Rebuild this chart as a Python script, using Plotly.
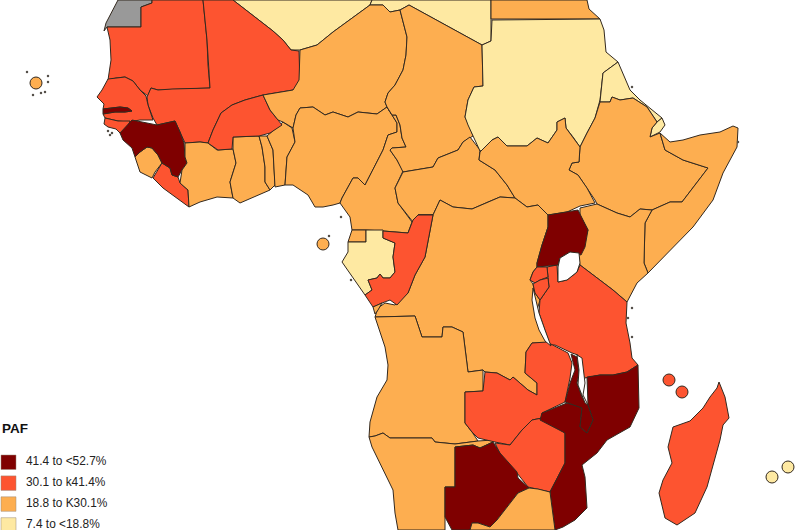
import plotly.graph_objects as go

# --- Outlines (x, y along the map) ---
W_SAHARA = [(118,0),(113,10),(106,23),(104,31),(107,27),(141,27),(141,7),(152,3),(152,0)]
MAURITANIA = [(107,27),(141,27),(141,7),(152,3),(152,0),(203,0),(207,40),(208,65),(210,88),(172,89),(158,90),(151,88),(148,96),(140,90),(133,81),(125,77),(116,78),(108,80),(111,60),(110,40)]
SENEGAL = [(97,97),(102,90),(108,79),(116,78),(125,77),(133,81),(140,90),(146,96),(148,105),(153,120),(140,120),(128,122),(118,121),(105,118),(103,114),(115,112),(125,112),(132,111),(128,108),(120,107),(110,108),(103,109),(104,104)]
GAMBIA = [(103,109),(110,108),(120,107),(128,108),(132,111),(125,112),(115,112),(103,114)]
GUINEA_BISSAU = [(105,118),(118,121),(130,121),(128,127),(122,135),(116,129),(108,127),(104,124)]
GUINEA = [(120,133),(125,128),(132,120),(147,123),(157,125),(175,121),(180,132),(184,143),(185,157),(187,163),(182,170),(178,177),(172,175),(170,168),(162,163),(158,155),(152,148),(147,147),(140,152),(135,157),(132,148),(123,140)]
SIERRA_LEONE = [(135,157),(140,152),(147,147),(152,148),(158,155),(162,163),(155,172),(152,178),(140,172),(138,165),(136,160)]
LIBERIA = [(162,163),(170,168),(172,175),(178,177),(180,183),(188,190),(189,207),(177,198),(163,188),(153,178)]
IVORY_COAST = [(185,143),(200,142),(208,143),(217,150),(233,149),(236,163),(230,182),(233,198),(217,197),(200,202),(189,207),(188,190),(180,183),(182,170),(187,163),(185,157)]
GHANA = [(233,137),(259,136),(262,147),(265,167),(265,182),(270,190),(240,203),(233,198),(230,182),(236,163),(233,149)]
TOGO = [(259,136),(267,136),(273,150),(275,185),(270,190),(265,182),(265,167),(262,147)]
BENIN = [(267,136),(283,122),(292,128),(295,142),(287,157),(285,185),(275,187),(273,150)]
BURKINA = [(208,143),(213,130),(221,113),(232,105),(245,100),(263,95),(270,110),(278,120),(282,125),(270,133),(259,136),(233,137),(232,149),(218,150)]
MALI = [(203,0),(233,0),(273,31),(283,40),(291,50),(299,51),(300,85),(293,90),(263,95),(245,100),(232,105),(221,113),(213,130),(208,143),(200,142),(185,143),(180,132),(175,121),(157,125),(153,118),(148,105),(147,97),(151,88),(158,90),(172,89),(210,88),(207,40)]
ALGERIA = [(233,0),(273,31),(283,40),(291,50),(300,50),(317,45),(333,32),(370,5),(372,0)]
LIBYA = [(372,0),(370,5),(383,5),(390,12),(400,10),(409,5),(482,45),(491,41),(491,0)]
EGYPT = [(491,0),(587,0),(589,9),(600,19),(491,19)]
NIGER = [(300,50),(317,45),(333,32),(370,5),(383,5),(390,12),(400,10),(404,25),(407,37),(406,55),(403,70),(395,85),(388,93),(385,102),(387,107),(377,114),(358,112),(348,117),(333,112),(325,115),(313,107),(300,108),(296,115),(293,128),(283,122),(278,120),(270,110),(263,95),(293,90),(299,80)]
NIGERIA = [(293,128),(296,115),(300,108),(313,107),(325,115),(333,112),(348,117),(358,112),(377,114),(387,107),(392,115),(397,123),(397,132),(388,135),(383,150),(373,170),(365,185),(358,178),(353,178),(342,198),(340,203),(333,205),(323,207),(315,207),(308,195),(293,185),(285,185),(287,157),(295,142)]
CAMEROON = [(387,107),(392,115),(396,115),(400,125),(402,138),(406,147),(392,148),(390,150),(397,160),(403,171),(395,188),(398,203),(412,222),(408,233),(383,231),(366,230),(352,230),(350,217),(340,203),(342,198),(353,178),(358,178),(365,185),(373,170),(383,150),(388,135),(397,132),(397,123)]
CHAD = [(400,10),(409,5),(482,45),(483,86),(474,87),(468,100),(465,117),(470,127),(473,136),(463,142),(458,150),(438,158),(433,167),(415,170),(403,172),(397,160),(390,150),(392,148),(406,147),(402,138),(400,125),(396,115),(392,115),(387,107),(385,102),(388,93),(395,85),(403,70),(406,55),(407,37),(404,25)]
CAR = [(403,172),(415,170),(433,167),(438,158),(458,150),(463,142),(470,137),(480,150),(479,160),(495,170),(507,185),(515,198),(500,197),(488,202),(472,209),(453,207),(440,200),(433,215),(418,215),(413,222),(398,203),(395,188)]
SUDAN = [(482,45),(491,41),(492,20),(600,19),(604,30),(606,52),(618,62),(603,73),(600,100),(595,118),(587,133),(580,147),(573,137),(566,128),(565,118),(557,122),(557,130),(548,143),(537,138),(527,146),(507,146),(498,137),(492,140),(483,150),(480,151),(473,136),(468,125),(465,117),(468,100),(474,87),(483,86)]
ERITREA = [(618,62),(630,90),(640,100),(662,118),(657,122),(647,107),(633,98),(620,100),(612,97),(610,102),(600,102),(603,73)]
DJIBOUTI = [(662,118),(665,125),(660,132),(650,137),(652,128),(657,122)]
ETHIOPIA = [(600,102),(610,102),(612,97),(620,100),(633,98),(647,107),(657,122),(652,128),(650,137),(660,133),(665,150),(683,160),(708,168),(682,202),(670,202),(652,210),(640,209),(630,217),(617,213),(597,204),(595,200),(587,188),(578,175),(569,170),(572,163),(579,162),(580,147),(587,133),(595,118)]
SOMALIA = [(660,133),(670,142),(683,140),(700,135),(720,132),(733,126),(738,128),(737,147),(723,173),(713,200),(693,227),(663,258),(648,273),(644,263),(645,223),(652,210),(670,202),(682,202),(708,168),(683,160),(665,150)]
KENYA = [(580,208),(597,204),(617,213),(630,217),(640,209),(652,210),(645,223),(644,263),(648,273),(637,283),(627,302),(613,290),(580,265),(578,255),(582,248),(588,230),(580,215)]
SOUTH_SUDAN = [(480,152),(492,140),(498,137),(507,146),(527,146),(537,138),(548,143),(557,130),(557,122),(565,118),(566,128),(573,137),(580,147),(579,162),(572,163),(569,170),(578,175),(587,188),(595,203),(580,206),(567,212),(548,215),(538,205),(527,207),(515,198),(507,185),(495,170),(479,160)]
UGANDA = [(548,215),(567,212),(578,210),(583,220),(588,230),(585,247),(581,255),(570,252),(560,258),(558,265),(537,267),(537,263),(542,245),(548,227)]
RWANDA = [(537,267),(547,267),(548,277),(540,280),(535,283),(530,280),(533,272)]
BURUNDI = [(533,284),(540,280),(548,278),(549,287),(540,300),(535,293)]
TANZANIA = [(547,267),(557,265),(558,282),(567,280),(577,272),(580,265),(613,290),(627,302),(626,323),(630,343),(632,358),(638,365),(627,372),(613,375),(600,375),(585,378),(580,370),(578,355),(572,353),(555,345),(550,345),(545,330),(539,313),(540,300),(549,287),(548,277)]
VICTORIA = [(560,258),(570,252),(579,253),(580,263),(577,272),(567,280),(558,282),(558,267)]
TANGANYIKA = [(533,288),(536,300),(539,313),(545,330),(551,346),(545,341),(539,330),(535,318),(532,300)]
DRC = [(418,215),(433,215),(440,200),(453,207),(472,209),(488,202),(500,197),(515,198),(527,207),(538,205),(548,215),(548,227),(542,245),(537,263),(537,267),(533,272),(530,280),(533,284),(535,293),(540,300),(537,310),(540,325),(547,343),(532,343),(526,352),(525,373),(537,383),(537,395),(528,390),(513,377),(510,380),(497,373),(485,372),(483,370),(468,372),(463,332),(452,327),(443,327),(442,337),(422,337),(415,316),(375,317),(378,308),(385,303),(395,305),(408,293),(415,275),(425,257),(433,215)]
CONGO = [(383,231),(408,233),(413,220),(418,215),(433,215),(425,257),(415,275),(408,293),(397,305),(390,300),(382,303),(373,307),(365,295),(372,290),(368,280),(377,278),(380,274),(383,278),(390,278),(395,272),(393,257),(395,243),(383,238)]
GABON = [(366,230),(383,230),(383,238),(395,243),(393,257),(395,272),(390,278),(383,278),(380,274),(377,278),(368,280),(372,290),(365,295),(353,278),(342,262),(348,252),(348,242),(366,242)]
EQ_GUINEA = [(352,230),(366,230),(366,242),(348,242)]
CABINDA = [(373,307),(382,303),(378,310),(375,314)]
ANGOLA = [(375,317),(415,316),(422,337),(442,337),(443,327),(452,327),(463,332),(468,372),(483,370),(483,391),(465,392),(465,423),(472,432),(478,441),(455,444),(435,442),(432,438),(390,438),(383,433),(375,436),(369,437),(370,422),(377,397),(387,380),(388,365),(385,347)]
NAMIBIA = [(369,437),(375,436),(383,433),(390,438),(432,438),(435,442),(455,444),(478,441),(493,440),(493,442),(480,448),(473,445),(455,447),(455,487),(445,487),(445,530),(398,530),(395,513),(393,490),(372,447)]
ZAMBIA = [(465,392),(483,391),(485,372),(497,373),(510,380),(513,377),(528,390),(537,395),(537,383),(525,373),(526,352),(532,343),(547,342),(568,353),(572,363),(570,378),(565,402),(542,413),(542,418),(532,420),(522,430),(510,445),(495,442),(478,438),(472,432),(465,423)]
ZIMBABWE = [(532,420),(542,418),(565,433),(565,463),(550,492),(538,489),(528,487),(517,473),(503,460),(495,443),(510,445),(522,430)]
MOZAMBIQUE = [(587,377),(600,375),(613,375),(627,372),(638,365),(639,408),(630,427),(607,440),(597,453),(582,465),(585,477),(587,508),(575,520),(563,527),(555,530),(553,515),(550,492),(565,463),(565,433),(540,420),(542,413),(567,403),(582,407),(580,427),(587,433),(593,420),(588,405)]
MALAWI = [(571,354),(577,357),(579,373),(577,383),(582,397),(588,405),(593,420),(587,433),(580,427),(582,408),(565,402),(570,383),(575,370)]
LAKE_MALAWI = [(577,355),(582,358),(585,383),(583,395),(588,405),(585,403),(578,385),(579,370)]
BOTSWANA = [(455,447),(473,445),(480,448),(493,442),(500,453),(517,472),(518,478),(529,488),(518,493),(510,503),(497,520),(490,527),(478,523),(472,523),(470,530),(452,530),(445,517),(445,487),(455,487)]
SOUTH_AFRICA = [(529,488),(538,489),(550,492),(553,515),(555,530),(470,530),(472,523),(478,523),(490,527),(497,520),(510,503),(518,493)]
MADAGASCAR = [(719,382),(725,397),(729,418),(723,425),(720,440),(707,487),(695,513),(677,525),(665,518),(659,493),(663,480),(672,463),(668,447),(673,427),(690,421),(703,408),(710,397),(717,388)]

COUNTRIES = [W_SAHARA, ALGERIA, LIBYA, EGYPT, MAURITANIA, MALI, SENEGAL, GUINEA_BISSAU, GAMBIA,
             SIERRA_LEONE, LIBERIA, GUINEA, IVORY_COAST, GHANA, TOGO, BENIN, BURKINA, NIGER, NIGERIA,
             CAMEROON, CHAD, CAR, SUDAN, ERITREA, DJIBOUTI, ETHIOPIA, SOMALIA, KENYA, SOUTH_SUDAN,
             DRC, EQ_GUINEA, GABON, CONGO, CABINDA, TANZANIA, UGANDA, RWANDA, BURUNDI, ANGOLA, NAMIBIA,
             ZAMBIA, ZIMBABWE, MOZAMBIQUE, MALAWI, BOTSWANA, SOUTH_AFRICA, MADAGASCAR]
# PAF class per country: 0 = 41.4-52.7, 1 = 30.1-41.4, 2 = 18.8-30.1, 3 = 7.4-18.8, 4 = no data
PAF_CLASS = [4, 3, 3, 2, 1, 1, 1, 1, 0,
             2, 1, 0, 2, 2, 2, 2, 1, 2, 2,
             2, 2, 2, 3, 3, 3, 2, 2, 2, 2,
             2, 2, 3, 1, 2, 1, 0, 1, 1, 2, 2,
             1, 1, 0, 0, 0, 2, 1]
LAKES = [VICTORIA, TANGANYIKA, LAKE_MALAWI]

ISLAND_X = [36, 323, 669, 682, 788, 772]
ISLAND_Y = [83, 244, 380, 392, 467, 477]
ISLAND_CLASS = [2, 2, 1, 1, 3, 3]
SPECK_X = [27, 48, 48, 33, 41, 45, 108, 112, 110, 632, 628, 632, 341, 632, 738, 329, 351]
SPECK_Y = [72, 76, 82, 95, 93, 92, 131, 133, 135, 308, 318, 337, 217, 87, 142, 236, 280]

LEGEND_TITLE = "PAF"
LEGEND_LABELS = ["41.4 to <52.7%", "30.1 to k41.4%", "18.8 to K30.1%", "7.4 to <18.8%"]
CLASS_COLORS = ["#7F0000", "#FD5430", "#FDAE50", "#FEE9A2", "#999999"]
EDGE = "#33291f"

fig = go.Figure()


def outline(points, fill):
    xs = [p[0] for p in points] + [points[0][0]]
    ys = [p[1] for p in points] + [points[0][1]]
    fig.add_trace(go.Scatter(x=xs, y=ys, mode="lines", fill="toself", fillcolor=fill,
                             line=dict(color=EDGE, width=1), hoverinfo="skip", showlegend=False))


for shape, cls in zip(COUNTRIES, PAF_CLASS):
    outline(shape, CLASS_COLORS[cls])
for lake in LAKES:
    outline(lake, "#FFFFFF")

fig.add_trace(go.Scatter(x=ISLAND_X, y=ISLAND_Y, mode="markers", hoverinfo="skip", showlegend=False,
                         marker=dict(size=12, color=[CLASS_COLORS[c] for c in ISLAND_CLASS],
                                     line=dict(color=EDGE, width=1))))
fig.add_trace(go.Scatter(x=SPECK_X, y=SPECK_Y, mode="markers", hoverinfo="skip", showlegend=False,
                         marker=dict(size=2.5, color="#55504a")))

shapes = []
annotations = [dict(x=0, y=428, text="<b>%s</b>" % LEGEND_TITLE, xref="x", yref="y", showarrow=False,
                    xanchor="left", yanchor="middle", font=dict(size=13.5, color="#111111"))]
for i, label in enumerate(LEGEND_LABELS):
    top = 455 + i * 20.9
    shapes.append(dict(type="rect", xref="x", yref="y", x0=1, x1=16, y0=top, y1=top + 14.5,
                       fillcolor=CLASS_COLORS[i], line=dict(color="#9a8a7a", width=0.5), layer="above"))
    annotations.append(dict(x=23.5, y=top + 6, text=label, xref="x", yref="y", showarrow=False,
                            xanchor="left", yanchor="middle", font=dict(size=11.9, color="#222222")))

fig.update_layout(width=800, height=530, margin=dict(l=0, r=0, t=0, b=0),
                  paper_bgcolor="white", plot_bgcolor="white",
                  font=dict(family="Liberation Sans, Arial, sans-serif"),
                  shapes=shapes, annotations=annotations,
                  xaxis=dict(range=[0, 800], visible=False, fixedrange=True),
                  yaxis=dict(range=[530, 0], visible=False, fixedrange=True))
fig.write_html("out.html", config=dict(displayModeBar=False),
               post_script="document.body.style.margin='0';document.documentElement.style.overflow='hidden';")
